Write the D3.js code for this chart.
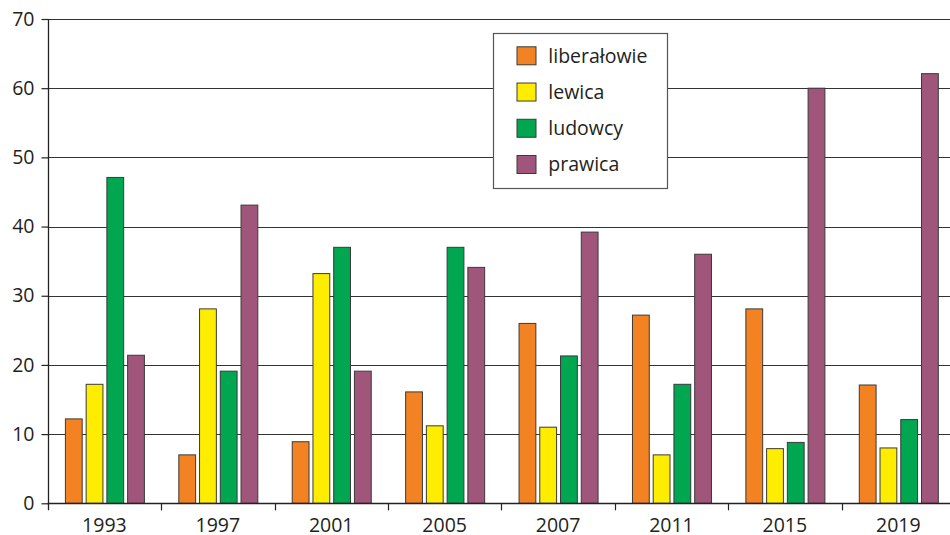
<!DOCTYPE html>
<html>
<head>
<meta charset="utf-8">
<script src="https://cdn.jsdelivr.net/npm/d3@7"></script>
<style>
  html, body { margin: 0; padding: 0; background: #fff; }
  svg { display: block; }
  text { font-family: "Open Sans", sans-serif; fill: #231f20; }
</style>
</head>
<body>
<svg id="chart" width="950" height="535"></svg>
<script>
const years = ["1993", "1997", "2001", "2005", "2007", "2011", "2015", "2019"];
const seriesNames = ["liberałowie", "lewica", "ludowcy", "prawica"];
const liberalowie = [12.2, 7.0, 8.9, 16.1, 26.0, 27.2, 28.1, 17.1];
const lewica      = [17.2, 28.1, 33.2, 11.2, 11.0, 7.0, 7.9, 8.0];
const ludowcy     = [47.1, 19.1, 37.0, 37.0, 21.3, 17.2, 8.8, 12.1];
const prawica     = [21.4, 43.1, 19.1, 34.1, 39.2, 36.0, 60.0, 62.1];
const yTicks = [0, 10, 20, 30, 40, 50, 60, 70];
const colors = ["#f28222", "#ffed00", "#00a650", "#a0567a"];

(function () {
const values = [liberalowie, lewica, ludowcy, prawica];
const data = years.map((yr, i) => ({ year: yr, vals: seriesNames.map((s, k) => ({ key: s, v: values[k][i] })) }));

const svg = d3.select("#chart");
const mLeft = 47.7, mTop = 19, mBottom = 503.3, mRight = 955;
const fs = "19.5px";

const x0 = d3.scaleBand().domain(years).range([mLeft, mRight]).padding(0);
const bw = x0.bandwidth();
const x1 = d3.scaleBand().domain(seriesNames).range([17.2, bw - 17.2]).paddingInner(0.19).paddingOuter(0);
const y = d3.scaleLinear().domain([0, 70]).range([mBottom, mTop]);
const color = d3.scaleOrdinal().domain(seriesNames).range(colors);

// gridlines
svg.append("g").selectAll("line").data(yTicks.filter(d => d > 0)).join("line")
  .attr("x1", mLeft).attr("x2", mRight)
  .attr("y1", d => Math.round(y(d)) + 0.5).attr("y2", d => Math.round(y(d)) + 0.5)
  .attr("stroke", "#333").attr("stroke-width", 1.2);

// bars
const groups = svg.append("g").selectAll("g").data(data).join("g")
  .attr("transform", d => `translate(${x0(d.year)},0)`);
groups.selectAll("rect").data(d => d.vals).join("rect")
  .attr("x", d => x1(d.key) + 0.5)
  .attr("width", x1.bandwidth())
  .attr("y", d => y(d.v))
  .attr("height", d => y(0) - y(d.v))
  .attr("fill", d => color(d.key))
  .attr("stroke", "#3a3a3a").attr("stroke-width", 1);

// y axis
const yAxis = d3.axisLeft(y).tickValues(yTicks).tickSize(7).tickPadding(7).tickFormat(d3.format("d"));
const ya = svg.append("g").attr("transform", `translate(${Math.round(mLeft) + 0.5},0)`).call(yAxis);
ya.select(".domain").remove();
ya.selectAll("line").attr("stroke", "#222").attr("stroke-width", 1.2);
ya.selectAll("text").style("font-size", fs).attr("fill", "#231f20").style("font-family", "'Open Sans', sans-serif");
svg.append("line").attr("x1", Math.round(mLeft) + 0.5).attr("x2", Math.round(mLeft) + 0.5)
  .attr("y1", mTop).attr("y2", mBottom + 7).attr("stroke", "#222").attr("stroke-width", 1.3);

// x axis baseline
svg.append("line").attr("x1", mLeft).attr("x2", mRight)
  .attr("y1", Math.round(mBottom) + 0.5).attr("y2", Math.round(mBottom) + 0.5)
  .attr("stroke", "#222").attr("stroke-width", 1.3);
svg.append("g").selectAll("line").data(years.slice(1)).join("line")
  .attr("x1", d => Math.round(x0(d)) + 0.5).attr("x2", d => Math.round(x0(d)) + 0.5)
  .attr("y1", mBottom).attr("y2", mBottom + 7)
  .attr("stroke", "#222").attr("stroke-width", 1.2);
svg.append("g").selectAll("text").data(years).join("text")
  .attr("x", d => x0(d) + bw / 2).attr("y", 531.5)
  .attr("text-anchor", "middle").style("font-size", fs)
  .text(d => d);

// legend
const lg = svg.append("g");
lg.append("rect").attr("x", 493.5).attr("y", 33.5).attr("width", 174).attr("height", 155)
  .attr("fill", "#fff").attr("stroke", "#555").attr("stroke-width", 1.2);
const rowY = d3.scalePoint().domain(seriesNames).range([55.8, 164.5]);
lg.selectAll("rect.sw").data(seriesNames).join("rect").attr("class", "sw")
  .attr("x", 517).attr("y", d => rowY(d) - 9).attr("width", 19).attr("height", 18)
  .attr("fill", d => color(d)).attr("stroke", "#3a3a3a").attr("stroke-width", 1);
lg.selectAll("text").data(seriesNames).join("text")
  .attr("x", 548.3).attr("y", d => rowY(d)).attr("dy", "0.35em")
  .style("font-size", fs).text(d => d);
})();
</script>
</body>
</html>
